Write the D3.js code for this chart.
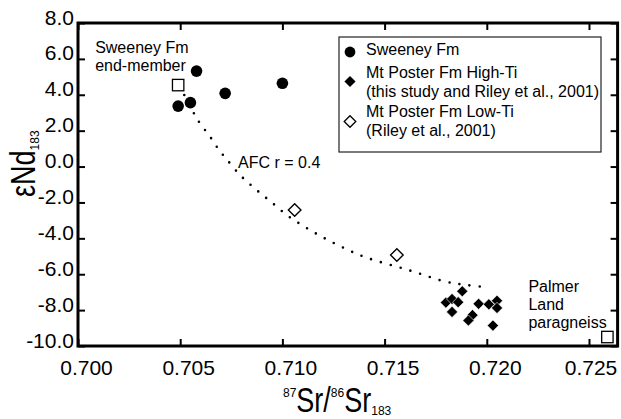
<!DOCTYPE html>
<html>
<head>
<meta charset="utf-8">
<script src="https://cdn.jsdelivr.net/npm/d3@7"></script>
<style>
  body { margin: 0; background: #fff; }
  svg { display: block; font-family: "Liberation Sans", Arial, sans-serif; }
</style>
</head>
<body>
<div class="displayArea"></div>
<script>
// values
var sweeneyX = [0.7049, 0.7055, 0.7058, 0.7072, 0.7100],
    sweeneyY = [3.37, 3.56, 5.32, 4.08, 4.64];

var highTiX = [0.7180, 0.7183, 0.7183, 0.7186, 0.7188, 0.7193, 0.7191, 0.7196, 0.7201, 0.7205, 0.7205, 0.7203],
    highTiY = [-7.58, -7.38, -8.10, -7.56, -6.95, -8.28, -8.58, -7.65, -7.68, -7.48, -7.88, -8.86];

var lowTiX = [0.7106, 0.7156],
    lowTiY = [-2.42, -4.93];

var endMemberX = [0.7049, 0.7259],
    endMemberY = [4.54, -9.50];

// AFC r = 0.4 curve (dotted)
var afcX = [0.7052, 0.7057, 0.7060, 0.7063, 0.7066, 0.7069, 0.7072, 0.7079, 0.7087, 0.7095, 0.7103, 0.7112, 0.7121, 0.7130, 0.7140, 0.7162, 0.7180, 0.7190, 0.7201],
    afcY = [3.99, 2.91, 2.35, 1.91, 1.44, 0.92, 0.51, -0.44, -1.27, -2.02, -2.77, -3.43, -4.02, -4.53, -5.03, -5.78, -6.42, -6.60, -6.73];

var xTicks = [0.700, 0.705, 0.710, 0.715, 0.720, 0.725],
    yTicks = [-10, -8, -6, -4, -2, 0, 2, 4, 6, 8];

var legendLabels = [
    ["Sweeney Fm"],
    ["Mt Poster Fm High-Ti", "(this study and Riley et al., 2001)"],
    ["Mt Poster Fm Low-Ti", "(Riley et al., 2001)"]
];

const width = 621, height = 419;
const plotL = 78, plotR = 617.6, plotT = 23, plotB = 346;

var xScale = d3.scaleLinear().domain([0.700, 0.7264]).range([plotL, plotR]);
var yScale = d3.scaleLinear().domain([-10, 8]).range([plotB, plotT]);

var svg = d3.select(".displayArea")
    .append("svg")
    .attr("width", width)
    .attr("height", height);

// axes, ticks point inward
var xAxis = d3.axisBottom(xScale).tickValues(xTicks).tickSizeInner(-7).tickSizeOuter(0)
    .tickFormat(d => d.toFixed(3));
var yAxis = d3.axisLeft(yScale).tickValues(yTicks).tickSizeInner(-7).tickSizeOuter(0)
    .tickFormat(d => d.toFixed(1));

var gx = svg.append("g").attr("transform", `translate(0,${plotB})`).call(xAxis);
var gy = svg.append("g").attr("transform", `translate(${plotL},0)`).call(yAxis);
svg.append("g").attr("transform", `translate(0,${plotT})`)
    .call(d3.axisTop(xScale).tickValues(xTicks).tickSizeInner(-7).tickSizeOuter(0).tickFormat(""));
svg.append("g").attr("transform", `translate(${plotR},0)`)
    .call(d3.axisRight(yScale).tickValues(yTicks).tickSizeInner(-7).tickSizeOuter(0).tickFormat(""));

svg.selectAll(".domain").remove();
svg.selectAll(".tick line").attr("stroke", "#000").attr("stroke-width", 2);

// labels sit a little right of their ticks; the last one is pulled in to fit
gx.selectAll("text")
    .attr("y", 29).attr("dy", null)
    .attr("dx", (d, i) => i == xTicks.length - 1 ? 1.5 : 8)
    .attr("font-size", 21).attr("font-family", null).attr("fill", "#000");
gy.selectAll("text")
    .attr("x", -4).attr("dy", "0.05em")
    .attr("font-size", 21).attr("font-family", null).attr("fill", "#000");

svg.append("rect")
    .attr("x", plotL).attr("y", plotT)
    .attr("width", plotR - plotL).attr("height", plotB - plotT)
    .attr("fill", "none").attr("stroke", "#000").attr("stroke-width", 3);

// axis titles built from pieces (big letters slightly stretched)
function pieces(g, list) {
    var x = 0;
    list.forEach(function (p) {
        var t = g.append("text")
            .attr("font-size", p.size)
            .attr("fill", "#000")
            .attr("transform", `translate(${x},${p.dy}) scale(1,${p.sy})`)
            .text(p.text);
        x += t.node().getComputedTextLength();
    });
}

pieces(svg.append("g").attr("transform", "translate(283,412)"), [
    { text: "87", size: 12, dy: -15, sy: 1 },
    { text: "Sr/", size: 27, dy: 0, sy: 1.28 },
    { text: "86", size: 12, dy: -15, sy: 1 },
    { text: "Sr", size: 27, dy: 0, sy: 1.28 },
    { text: "183", size: 12, dy: 3, sy: 1 }
]);

pieces(svg.append("g").attr("transform", "translate(35,197) rotate(-90)"), [
    { text: "\u03b5Nd", size: 27, dy: 0, sy: 1.28 },
    { text: "183", size: 12, dy: 4, sy: 1 }
]);

// AFC dotted curve
var afc = afcX.map((d, i) => [d, afcY[i]]);
var line = d3.line()
    .x(d => xScale(d[0]))
    .y(d => yScale(d[1]))
    .curve(d3.curveCatmullRom);

svg.append("path")
    .attr("d", line(afc))
    .attr("fill", "none")
    .attr("stroke", "#000")
    .attr("stroke-width", 2.6)
    .attr("stroke-linecap", "round")
    .attr("stroke-dasharray", "0 10.2");

svg.append("text")
    .attr("x", xScale(0.70783)).attr("y", yScale(-0.08))
    .attr("font-size", 16).text("AFC r = 0.4");

// diamond path
function diamond(r) {
    return `M0,${-r}L${r},0L0,${r}L${-r},0Z`;
}

// end-members (open squares)
svg.selectAll(".end")
    .data(endMemberX)
    .enter()
    .append("rect")
    .attr("x", d => xScale(d) - 5.7)
    .attr("y", (d, i) => yScale(endMemberY[i]) - 5.7)
    .attr("width", 11.4).attr("height", 11.4)
    .attr("fill", "#fff").attr("stroke", "#000").attr("stroke-width", 1.3);

// Sweeney Fm circles
svg.selectAll(".sw")
    .data(sweeneyX)
    .enter()
    .append("circle")
    .attr("cx", d => xScale(d))
    .attr("cy", (d, i) => yScale(sweeneyY[i]))
    .attr("r", 5.8)
    .attr("fill", "#000");

// high-Ti filled diamonds
svg.selectAll(".hi")
    .data(highTiX)
    .enter()
    .append("path")
    .attr("transform", (d, i) => `translate(${xScale(d)},${yScale(highTiY[i])})`)
    .attr("d", diamond(5.6))
    .attr("fill", "#000")
    .attr("stroke", "#fff")
    .attr("stroke-width", 0.6);

// low-Ti open diamonds
svg.selectAll(".lo")
    .data(lowTiX)
    .enter()
    .append("path")
    .attr("transform", (d, i) => `translate(${xScale(d)},${yScale(lowTiY[i])})`)
    .attr("d", diamond(6.3))
    .attr("fill", "#fff")
    .attr("stroke", "#000")
    .attr("stroke-width", 1.4);

// end-member labels
var sx = xScale(endMemberX[0]), sy = yScale(endMemberY[0]);
svg.append("text").attr("font-size", 16)
    .selectAll("tspan")
    .data(["Sweeney Fm", "end-member"])
    .enter()
    .append("tspan")
    .attr("x", sx - 83)
    .attr("y", (d, i) => sy - 32 + i * 18)
    .text(d => d);

var px = xScale(endMemberX[1]), py = yScale(endMemberY[1]);
svg.append("text").attr("font-size", 16)
    .selectAll("tspan")
    .data(["Palmer", "Land", "paragneiss"])
    .enter()
    .append("tspan")
    .attr("x", px - 79)
    .attr("y", (d, i) => py - 45 + i * 18)
    .text(d => d);

// legend
var lg = svg.append("g").attr("transform", "translate(339,37)");
lg.append("rect")
    .attr("width", 262).attr("height", 115)
    .attr("fill", "#fff").attr("stroke", "#222").attr("stroke-width", 1.2);

var rowY = [15, 44.5, 84.5];
lg.append("circle").attr("cx", 11).attr("cy", rowY[0]).attr("r", 5.4).attr("fill", "#000");
lg.append("path").attr("transform", `translate(11,${rowY[1]})`).attr("d", diamond(5.6)).attr("fill", "#000");
lg.append("path").attr("transform", `translate(11,${rowY[2]})`).attr("d", diamond(5.8))
    .attr("fill", "#fff").attr("stroke", "#000").attr("stroke-width", 1.3);

var textY = [18, 41, 80];
legendLabels.forEach(function (lines, i) {
    lg.append("text").attr("font-size", 16)
        .selectAll("tspan")
        .data(lines)
        .enter()
        .append("tspan")
        .attr("x", 27)
        .attr("y", (d, j) => textY[i] + j * 18.5)
        .text(d => d);
});
</script>
</body>
</html>
